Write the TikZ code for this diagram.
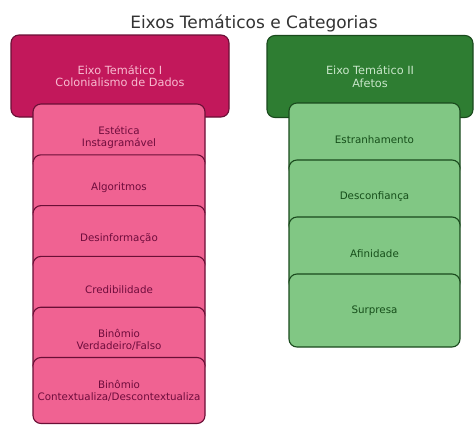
\documentclass[tikz,border=0pt]{standalone}
\usepackage{fontspec}
\setmainfont{DejaVu Sans}
\definecolor{pinkH}{HTML}{C2185B}
\definecolor{pinkC}{HTML}{F06292}
\definecolor{pinkB}{HTML}{6A0F36}
\definecolor{pinkHT}{HTML}{F8BBD0}
\definecolor{pinkT}{HTML}{6E0C3C}
\definecolor{greenH}{HTML}{2E7D32}
\definecolor{greenC}{HTML}{81C784}
\definecolor{greenB}{HTML}{1A4A1D}
\definecolor{greenHT}{HTML}{C8E6C9}
\definecolor{greenT}{HTML}{164E1A}
\definecolor{titleC}{HTML}{333333}
\tikzset{
  hdr/.style={draw, rounded corners=8pt, line width=1.1pt, minimum height=82pt,
    align=center, inner sep=0pt, font=\fontsize{11.3}{12.5}\selectfont},
  pinkhdr/.style={hdr, fill=pinkH, draw=pinkB, text=pinkHT, minimum width=218pt},
  greenhdr/.style={hdr, fill=greenH, draw=greenB, text=greenHT, minimum width=206pt},
  cat/.style={draw, rounded corners=8pt, line width=1.1pt, align=center,
    inner sep=0pt, font=\fontsize{10.3}{12}\selectfont},
  pinkcat/.style={cat, fill=pinkC, draw=pinkB, text=pinkT, minimum width=172pt, minimum height=66pt},
  greencat/.style={cat, fill=greenC, draw=greenB, text=greenT, minimum width=171pt, minimum height=73pt},
}
\begin{document}
\begin{tikzpicture}[x=1pt,y=-1pt]
\useasboundingbox[fill=white] (0,0) rectangle (474,424);
\clip (0,0) rectangle (474,424);
\node[anchor=base, text=titleC, font=\fontsize{17}{19}\selectfont] (title) at (254,28) {Eixos Temáticos e Categorias};
% Eixo I
\node[pinkhdr] (h1) at (120,76) {Eixo Temático I\\Colonialismo de Dados};
\node[pinkcat] (p1) at (119,137) {Estética\\Instagramável};
\node[pinkcat] (p2) at (119,187.8) {Algoritmos};
\node[pinkcat] (p3) at (119,238.6) {Desinformação};
\node[pinkcat] (p4) at (119,289.4) {Credibilidade};
\node[pinkcat] (p5) at (119,340.2) {Binômio\\Verdadeiro/Falso};
\node[pinkcat] (p6) at (119,390.5) {Binômio\\Contextualiza/Descontextualiza};
% Eixo II
\node[greenhdr] (h2) at (370,76.5) {Eixo Temático II\\Afetos};
\node[greencat] (g1) at (374.5,139.5) {Estranhamento};
\node[greencat] (g2) at (374.5,196.5) {Desconfiança};
\node[greencat] (g3) at (374.5,253.5) {Afinidade};
\node[greencat] (g4) at (374.5,310.5) {Surpresa};
\end{tikzpicture}
\end{document}
